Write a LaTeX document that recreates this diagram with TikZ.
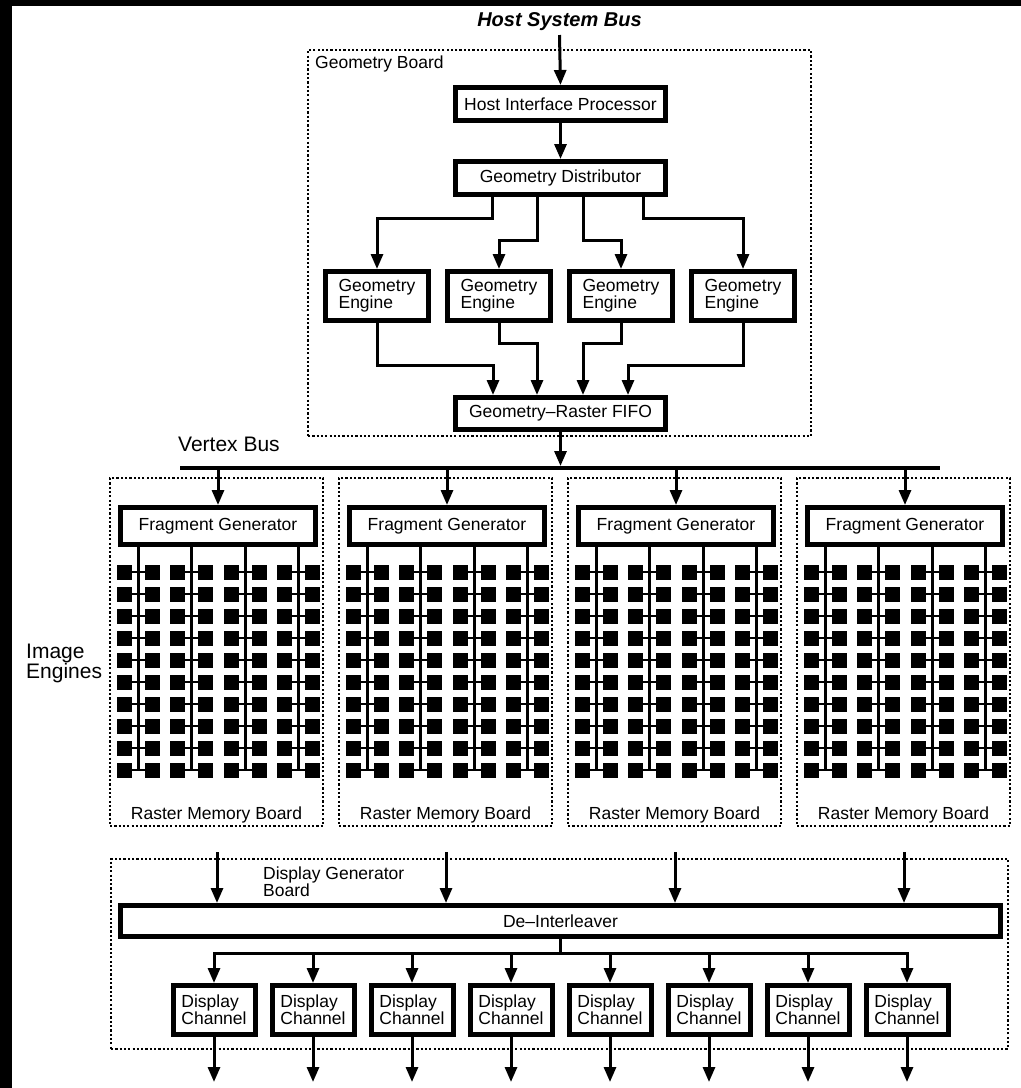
\documentclass[tikz,border=0pt]{standalone}
\usepackage{fontspec}
\setmainfont{Liberation Sans}
\usetikzlibrary{arrows.meta,calc}
\begin{document}
\begin{tikzpicture}[x=1pt,y=-1pt,
  txt/.style={font=\fontsize{17.5}{17}\selectfont},
  bigtxt/.style={font=\fontsize{21}{20}\selectfont},
  box/.style={draw,line width=5pt,fill=white,inner sep=2pt,txt},
  board/.style={draw,line width=2.4pt,dash pattern=on 2.2pt off 2.1pt,inner sep=0pt},
  conn/.style={line width=3pt},
  arr/.style={conn,-{Triangle[length=15pt,width=12pt]}},
  cell/.style={fill=black},
  stub/.style={line width=2.5pt}]
% background
\fill[black] (0,0) rectangle (1021,1088);
\fill[white] (12,6) rectangle (1021,1088);
\useasboundingbox (0,0) rectangle (1021,1088);

% ---------- Geometry board ----------
\node[board, minimum width=503pt, minimum height=386pt] (gb) at (559.5,243) {};
\node[txt, anchor=west, inner sep=0pt] (gbl) at (315,64) {Geometry Board};
\node[font=\fontsize{20}{20}\selectfont\bfseries\itshape, inner sep=0pt] (hsb) at (559.5,22) {Host System Bus};

\node[box, minimum width=210pt, minimum height=33pt] (hip) at (560.5,104) {Host Interface Processor};
\node[box, minimum width=210pt, minimum height=33pt] (gd) at (560.5,178) {Geometry Distributor};
\foreach \j/\x in {1/377,2/499,3/621,4/743}
  \node[box, minimum width=103.5pt, minimum height=49pt, align=left] (ge\j) at (\x,296) {Geometry\\Engine};
\node[box, minimum width=210pt, minimum height=32pt] (fifo) at (560.5,413.5) {Geometry\textendash Raster FIFO};

\draw[arr] ($(hsb.center)+(0,13)$) -- (hip.north);
\draw[arr] (hip) -- (gd);
\draw[arr] ($(gd.south)+(-68.5,0)$) -- ++(0,21) -| (ge1.north);
\draw[arr] ($(gd.south)+(-23.5,0)$) -- ++(0,43) -| (ge2.north);
\draw[arr] ($(gd.south)+(22.5,0)$) -- ++(0,43) -| (ge3.north);
\draw[arr] ($(gd.south)+(82.5,0)$) -- ++(0,21) -| (ge4.north);
\draw[arr] (ge1.south) -- ++(0,42) -| ($(fifo.north)+(-67.5,0)$);
\draw[arr] (ge2.south) -- ++(0,20) -| ($(fifo.north)+(-23.5,0)$);
\draw[arr] (ge3.south) -- ++(0,20) -| ($(fifo.north)+(22.5,0)$);
\draw[arr] (ge4.south) -- ++(0,42) -| ($(fifo.north)+(67.5,0)$);

% ---------- Vertex bus ----------
\coordinate (busL) at (180,468);
\coordinate (busR) at (940,468);
\draw[line width=4.5pt] (busL) -- (busR);
\node[bigtxt, anchor=west, inner sep=0pt] (vbl) at (178,444) {Vertex Bus};
\draw[arr, shorten >=2pt] (fifo.south) -- (fifo.south |- busL);
\node[bigtxt, anchor=west, align=left, inner sep=0pt] (iel) at (26,663) {Image\\Engines};

% ---------- Raster memory boards ----------
\foreach \i in {0,...,3}{
  \pgfmathsetmacro\L{109+229*\i}
  \node[board, minimum width=213pt, minimum height=348pt] (rmb\i) at (\L+107.5,652) {};
  \node[box, minimum width=195pt, minimum height=37pt] (fg\i) at (\L+109,526) {Fragment Generator};
  \node[txt, inner sep=0pt] (rmbl\i) at (\L+107.5,815) {Raster Memory Board};
  \draw[arr] (fg\i.north |- busL) -- (fg\i.north);
  \foreach \c in {29,82.5,136,189.5}{
    \pgfmathsetmacro\X{\L+\c}
    \draw[conn] ($(fg\i.south)+({\c-109},0)$) -- (\X,770);
    \foreach \k in {0,...,9}{
      \pgfmathsetmacro\Y{572+22*\k}
      \draw[stub] (\X-14,\Y) -- (\X+14,\Y);
      \fill[cell] (\X-21.5,\Y-7.5) rectangle (\X-6.5,\Y+7.5);
      \fill[cell] (\X+6.5,\Y-7.5) rectangle (\X+21.5,\Y+7.5);
    }
  }
}

% ---------- Display generator board ----------
\node[board, minimum width=897pt, minimum height=190pt] (dgb) at (559.5,954) {};
\node[txt, anchor=west, align=left, inner sep=0pt] (dgl) at (263,881.5) {Display Generator\\Board};
\node[box, minimum width=880pt, minimum height=31pt] (di) at (560.5,921) {De\textendash Interleaver};
\foreach \i in {0,...,3}{
  \pgfmathsetmacro\L{109+229*\i}
  \coordinate (din\i) at (\L+108,852);
  \draw[arr] (din\i) -- (din\i |- di.north);
}
\foreach \j in {1,...,8}
  \node[box, minimum width=82pt, minimum height=49pt, align=left,
        font=\fontsize{17.5}{16}\selectfont] (dc\j) at ({214+99*(\j-1)},1010) {Display\\Channel};
\draw[conn] (di.south) -- ++(0,14) coordinate (split);
\draw[arr] (split) -| (dc1.north);
\draw[arr] (split) -| (dc8.north);
\foreach \j in {2,...,7}
  \draw[arr] (dc\j.north |- split) -- (dc\j.north);
\foreach \j in {1,...,8}
  \draw[arr] (dc\j.south) -- ++(0,45);
\end{tikzpicture}
\end{document}
